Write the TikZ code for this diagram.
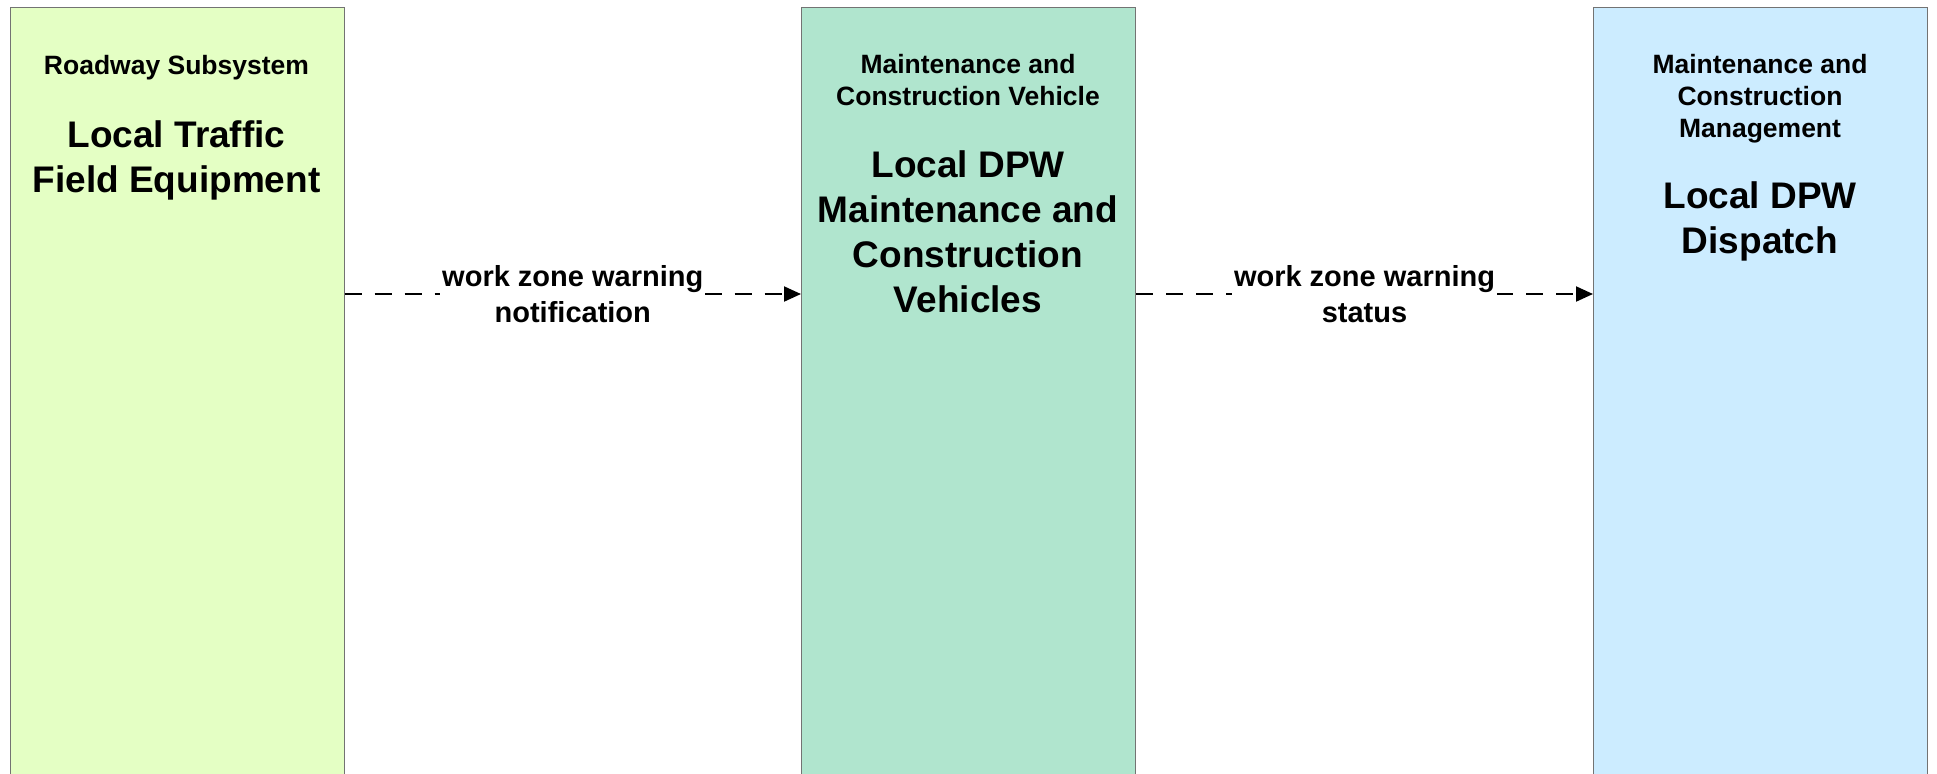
\documentclass[tikz,border=0pt]{standalone}
\usepackage{fontspec}
\setmainfont{Liberation Sans}
\usetikzlibrary{arrows.meta}

\definecolor{fieldgreen}{RGB}{228,255,196}
\definecolor{vehgreen}{RGB}{176,229,206}
\definecolor{mgmtblue}{RGB}{204,236,255}

\tikzset{
  sysbox/.style={draw=black!55, line width=0.5pt, anchor=north west,
    minimum width=167pt, minimum height=400pt, inner sep=0pt},
  classtext/.style={font=\fontsize{13.25}{16}\selectfont\bfseries,
    align=center, anchor=base, inner sep=0pt},
  nametext/.style={font=\fontsize{18.5}{22.5}\selectfont\bfseries,
    align=center, anchor=base, inner sep=0pt},
  flowlabel/.style={font=\fontsize{14.5}{18}\selectfont\bfseries,
    align=center, fill=white, inner sep=1pt},
  flow/.style={line width=1pt, dash pattern=on 8.5pt off 6.5pt,
    -{Triangle[length=8.5pt,width=7.5pt]}},
}

\begin{document}
\begin{tikzpicture}[x=0.5pt, y=-0.5pt]
  \useasboundingbox (0,0) rectangle (1937,773);
  \clip (0,0) rectangle (1937,773);

  % 三个子系统方框（下边超出画面）
  \node[sysbox, fill=fieldgreen] (lte) at (9.5,7) {};
  \node[sysbox, fill=vehgreen] (dpwveh) at (801,7) {};
  \node[sysbox, fill=mgmtblue] (dpwdisp) at (1593,7) {};

  % 方框内标题（base 为末行基线）
  \node[classtext] (lteclass) at (176.5,74) {Roadway Subsystem};
  \node[nametext] (ltename) at (176.5,192) {Local Traffic\\Field Equipment};
  \node[classtext] (vehclass) at (968,105) {Maintenance and\\Construction Vehicle};
  \node[nametext] (vehname) at (968,312)
    {Local DPW\\Maintenance and\\Construction\\Vehicles};
  \node[classtext] (dispclass) at (1760,137)
    {Maintenance and\\Construction\\Management};
  \node[nametext] (dispname) at (1760,253) {Local DPW\\Dispatch};

  % 数据流
  \coordinate (lvl) at (0,294);
  \draw[flow] (lte.east |- lvl) -- (dpwveh.west |- lvl)
    node[flowlabel, midway] (flowa) {work zone warning\\notification};
  \draw[flow] (dpwveh.east |- lvl) -- (dpwdisp.west |- lvl)
    node[flowlabel, midway] (flowb) {work zone warning\\status};
\end{tikzpicture}
\end{document}
